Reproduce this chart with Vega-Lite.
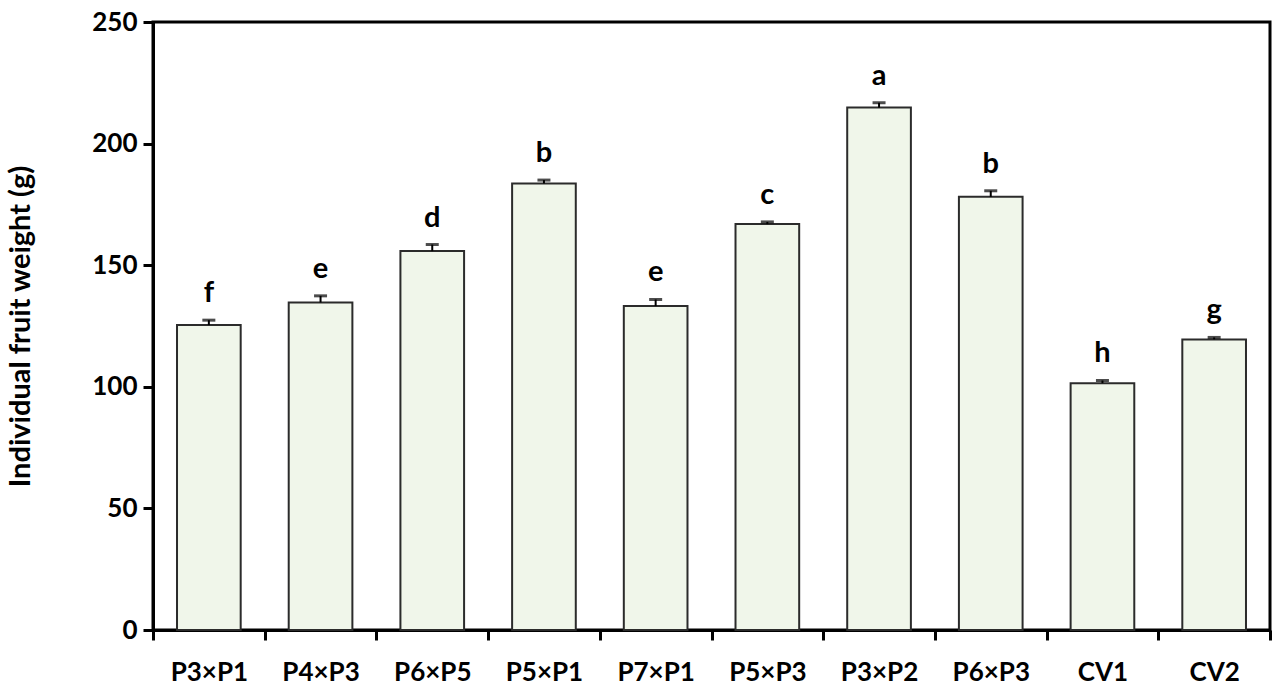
{
  "$schema": "https://vega.github.io/schema/vega-lite/v6.json",
  "autosize": {"type": "none"},
  "width": 1117,
  "height": 608,
  "padding": {"left": 153, "top": 22, "right": 10, "bottom": 68},
  "background": "#ffffff",
  "data": {
    "values": [
      {"genotype": "P3×P1", "weight": 125.4, "upper": 127.4, "letter": "f"},
      {"genotype": "P4×P3", "weight": 134.7, "upper": 137.4, "letter": "e"},
      {"genotype": "P6×P5", "weight": 155.8, "upper": 158.5, "letter": "d"},
      {"genotype": "P5×P1", "weight": 183.6, "upper": 185.0, "letter": "b"},
      {"genotype": "P7×P1", "weight": 133.2, "upper": 135.9, "letter": "e"},
      {"genotype": "P5×P3", "weight": 166.9, "upper": 167.8, "letter": "c"},
      {"genotype": "P3×P2", "weight": 214.8, "upper": 216.8, "letter": "a"},
      {"genotype": "P6×P3", "weight": 178.1, "upper": 180.6, "letter": "b"},
      {"genotype": "CV1", "weight": 101.5, "upper": 102.6, "letter": "h"},
      {"genotype": "CV2", "weight": 119.5, "upper": 120.3, "letter": "g"}
    ]
  },
  "encoding": {
    "x": {
      "field": "genotype",
      "type": "nominal",
      "sort": null,
      "title": null,
      "scale": {"paddingInner": 0, "paddingOuter": 0},
      "axis": {
        "labelAngle": 0,
        "labelFont": "Lato",
        "labelFontWeight": "bold",
        "labelFontSize": 26,
        "labelColor": "#000000",
        "labelPadding": 19,
        "tickBand": "extent",
        "tickSize": 10,
        "tickWidth": 3,
        "tickColor": "#000000",
        "domainColor": "#000000",
        "domainWidth": 3
      }
    }
  },
  "layer": [
    {
      "mark": {"type": "bar", "fill": "#f0f6ea", "stroke": "#2b2b2b", "strokeWidth": 2, "width": {"band": 0.57}},
      "encoding": {
        "y": {
          "field": "weight",
          "type": "quantitative",
          "title": "Individual fruit weight (g)",
          "scale": {"domain": [0, 250], "nice": false},
          "axis": {
            "values": [0, 50, 100, 150, 200, 250],
            "grid": false,
            "labelFont": "Lato",
            "labelFontWeight": "bold",
            "labelFontSize": 26,
            "labelColor": "#000000",
            "labelPadding": 6,
            "tickSize": 10,
            "tickWidth": 3,
            "tickColor": "#000000",
            "domainColor": "#000000",
            "domainWidth": 3,
            "titleFont": "Lato",
            "titleFontWeight": "bold",
            "titleFontSize": 29,
            "titleColor": "#000000",
            "titlePadding": 56
          }
        }
      }
    },
    {
      "mark": {"type": "rule", "color": "#000000", "strokeWidth": 2},
      "encoding": {
        "y": {"field": "weight", "type": "quantitative"},
        "y2": {"field": "upper"}
      }
    },
    {
      "mark": {"type": "tick", "color": "#000000", "thickness": 3, "size": 13, "orient": "horizontal"},
      "encoding": {
        "y": {"field": "upper", "type": "quantitative"}
      }
    },
    {
      "mark": {"type": "text", "font": "Lato", "fontWeight": "bold", "fontSize": 29, "baseline": "bottom", "dy": -12, "color": "#000000"},
      "encoding": {
        "y": {"field": "upper", "type": "quantitative"},
        "text": {"field": "letter"}
      }
    }
  ],
  "config": {
    "view": {"stroke": "#000000", "strokeWidth": 3}
  }
}
